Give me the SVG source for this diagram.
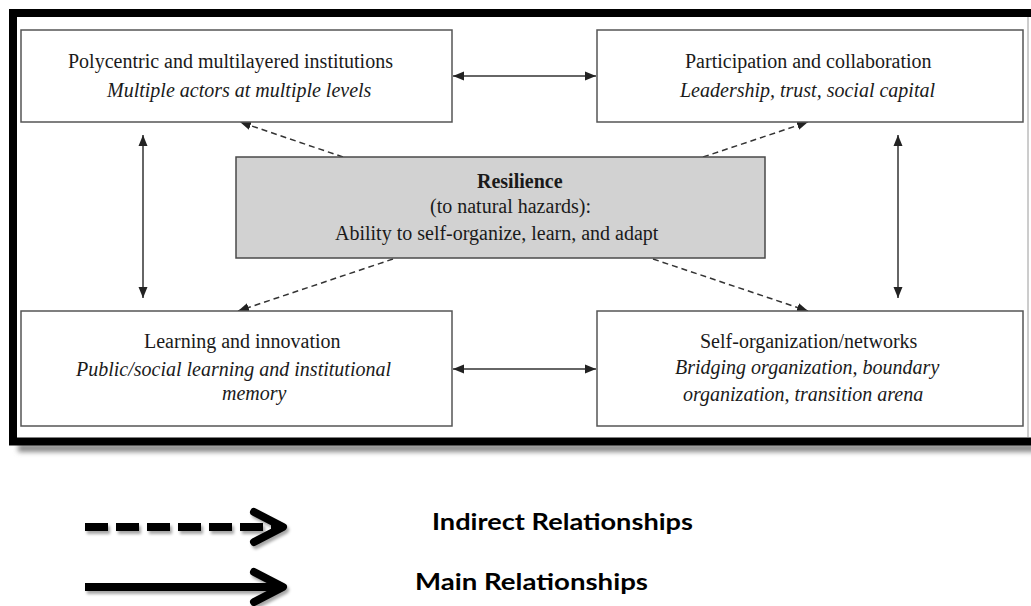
<svg xmlns="http://www.w3.org/2000/svg" width="1031" height="606" viewBox="0 0 1031 606">
  <defs>
    <style>
      .box { fill: #ffffff; stroke: #555555; stroke-width: 1.5; }
      .core { fill: #d2d2d2; stroke: #4a4a4a; stroke-width: 1.5; }
      .t { font-family: "Liberation Serif", "Times New Roman", serif; font-size: 20px; fill: #1a1a1a; }
      .it { font-style: italic; }
      .b { font-weight: bold; }
      .main { fill: none; stroke: #333333; stroke-width: 1.5; }
      .indirect { fill: none; stroke: #333333; stroke-width: 1.5; stroke-dasharray: 6 4; }
      .leg { fill: none; stroke: #000000; stroke-width: 8; }
      .legtxt { font-family: Lato, "Open Sans", "Liberation Sans", sans-serif; font-weight: 700; font-size: 22px; fill: #000000; }
    </style>
    <marker id="head" markerUnits="userSpaceOnUse" markerWidth="12" markerHeight="10" refX="11" refY="5" orient="auto-start-reverse">
      <path d="M0,0.5 L11,5 L0,9.5 z" fill="#222222"/>
    </marker>
    <filter id="soft" x="-10%" y="-100%" width="120%" height="300%">
      <feGaussianBlur stdDeviation="2.5"/>
    </filter>
    <filter id="lshadow" x="-10%" y="-50%" width="120%" height="200%">
      <feDropShadow dx="2" dy="3" stdDeviation="1.5" flood-color="#000000" flood-opacity="0.35"/>
    </filter>
  </defs>

  <rect width="1031" height="606" fill="#ffffff"/>

  <!-- outer frame with its shadow under the bottom edge -->
  <g id="frame">
    <rect x="18" y="444" width="1030" height="8" fill="#8a8a8a" filter="url(#soft)"/>
    <rect x="13" y="13" width="1040" height="428.5" fill="#ffffff" stroke="#000000" stroke-width="8"/>
    <line x1="1028" y1="17" x2="1028" y2="437" stroke="#9a9a9a" stroke-width="1"/>
  </g>

  <!-- connectors -->
  <g id="connectors">
    <line class="main" x1="453" y1="76" x2="596" y2="76" marker-start="url(#head)" marker-end="url(#head)"/>
    <line class="main" x1="453" y1="369" x2="596" y2="369" marker-start="url(#head)" marker-end="url(#head)"/>
    <line class="main" x1="143" y1="135" x2="143" y2="298" marker-start="url(#head)" marker-end="url(#head)"/>
    <line class="main" x1="898" y1="135" x2="898" y2="298" marker-start="url(#head)" marker-end="url(#head)"/>
    <line class="indirect" x1="343" y1="157" x2="240" y2="122" marker-end="url(#head)"/>
    <line class="indirect" x1="703" y1="157" x2="808" y2="122" marker-end="url(#head)"/>
    <line class="indirect" x1="393" y1="259" x2="238" y2="311" marker-end="url(#head)"/>
    <line class="indirect" x1="653" y1="259" x2="808" y2="311" marker-end="url(#head)"/>
  </g>

  <g id="node-polycentric">
    <rect class="box" x="21" y="30" width="431" height="92"/>
    <text class="t" x="68" y="68">Polycentric and multilayered institutions</text>
    <text class="t it" x="107" y="97">Multiple actors at multiple levels</text>
  </g>

  <g id="node-participation">
    <rect class="box" x="597" y="30" width="426" height="92"/>
    <text class="t" x="685" y="68">Participation and collaboration</text>
    <text class="t it" x="680" y="97">Leadership, trust, social capital</text>
  </g>

  <g id="node-resilience">
    <rect class="core" x="236" y="157" width="529" height="101"/>
    <text class="t b" x="477" y="188">Resilience</text>
    <text class="t" x="430" y="213">(to natural hazards):</text>
    <text class="t" x="335" y="240">Ability to self-organize, learn, and adapt</text>
  </g>

  <g id="node-learning">
    <rect class="box" x="21" y="311" width="431" height="115"/>
    <text class="t" x="144" y="348">Learning and innovation</text>
    <text class="t it" x="76" y="376">Public/social learning and institutional</text>
    <text class="t it" x="222" y="400">memory</text>
  </g>

  <g id="node-selforg">
    <rect class="box" x="597" y="311" width="426" height="115"/>
    <text class="t" x="700" y="348">Self-organization/networks</text>
    <text class="t it" x="675" y="374">Bridging organization, boundary</text>
    <text class="t it" x="683" y="401">organization, transition arena</text>
  </g>

  <!-- legend -->
  <g id="legend">
    <g filter="url(#lshadow)">
      <line class="leg" x1="85" y1="527" x2="276" y2="527" stroke-dasharray="23 8"/>
      <polyline class="leg" points="254,512 283,527 254,542" stroke-linecap="round" stroke-linejoin="round"/>
      <line class="leg" x1="85" y1="587" x2="280" y2="587"/>
      <polyline class="leg" points="254,572 283,587 254,602" stroke-linecap="round" stroke-linejoin="round"/>
    </g>
    <text class="legtxt" x="432" y="530" textLength="261" lengthAdjust="spacingAndGlyphs">Indirect Relationships</text>
    <text class="legtxt" x="415" y="590" textLength="233" lengthAdjust="spacingAndGlyphs">Main Relationships</text>
  </g>
</svg>
